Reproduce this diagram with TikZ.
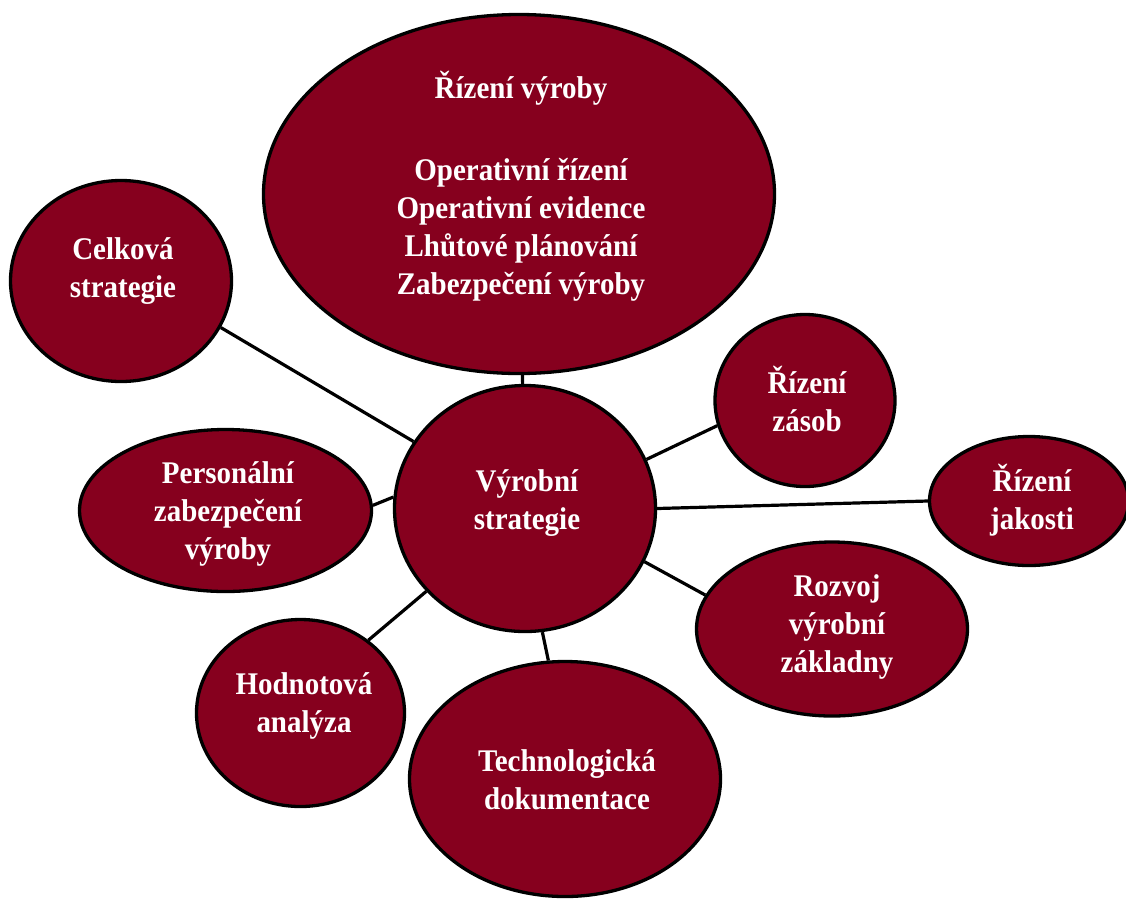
\documentclass[tikz,border=0pt]{standalone}
\usepackage{fontspec}
\setmainfont{Liberation Serif}[FakeStretch=0.92]
\usetikzlibrary{shapes.geometric,backgrounds}
\definecolor{wine}{RGB}{134,0,30}
\tikzset{
  bubble/.style={ellipse, draw=black, line width=3.3pt, fill=wine, inner sep=0pt},
  txt/.style={text=white, font=\fontsize{31.5}{38}\selectfont\bfseries, align=center, inner sep=0pt},
  link/.style={draw=black, line width=3.2pt},
}
\begin{document}
\begin{tikzpicture}[x=1pt,y=-1pt]
\useasboundingbox (0,0) rectangle (1126,898);

% bubbles
\node[bubble, minimum width=511pt, minimum height=359pt] (rv)  at (519,194)   {};
\node[bubble, minimum width=221pt, minimum height=201pt] (cs)  at (121,281)   {};
\node[bubble, minimum width=261pt, minimum height=246pt] (vs)  at (525,508.5) {};
\node[bubble, minimum width=180pt, minimum height=172pt] (rz)  at (805,400.5) {};
\node[bubble, minimum width=199pt, minimum height=129pt] (rj)  at (1029,501)  {};
\node[bubble, minimum width=292pt, minimum height=162pt] (pz)  at (225.5,510.5) {};
\node[bubble, minimum width=271pt, minimum height=174pt] (rvz) at (832,629)   {};
\node[bubble, minimum width=208pt, minimum height=187pt] (ha)  at (300.5,713) {};
\node[bubble, minimum width=311pt, minimum height=235pt] (td)  at (565,779)   {};

% labels
\node[txt] (trv)  at (521,186) {Řízení výroby\\[44pt]Operativní řízení\\Operativní evidence\\Lhůtové plánování\\Zabezpečení výroby};
\node[txt] (tcs)  at (123,271) {Celková\\strategie};
\node[txt] (tvs)  at (527,503) {Výrobní\\strategie};
\node[txt] (trz)  at (807,399) {Řízení\\zásob};
\node[txt] (trj)  at (1032,500) {Řízení\\jakosti};
\node[txt] (tpz)  at (228,514) {Personální\\zabezpečení\\výroby};
\node[txt] (trvz) at (837,627) {Rozvoj\\výrobní\\základny};
\node[txt] (tha)  at (304,706) {Hodnotová\\analýza};
\node[txt] (ttd)  at (567,780) {Technologická\\dokumentace};

% connectors
\begin{pgfonlayer}{background}
\draw[link] (vs) -- (rv);
\draw[link] (vs.149) -- (cs.-25);
\draw[link] (vs.175) -- (pz.2);
\draw[link] (vs.22) -- (rz.-164);
\draw[link] (vs.0) -- (rj.180);
\draw[link] (vs.-24) -- (rvz.165);
\draw[link] (vs.220) -- (ha.47);
\draw[link] (vs.-82) -- (td.98);
\end{pgfonlayer}
\end{tikzpicture}
\end{document}
